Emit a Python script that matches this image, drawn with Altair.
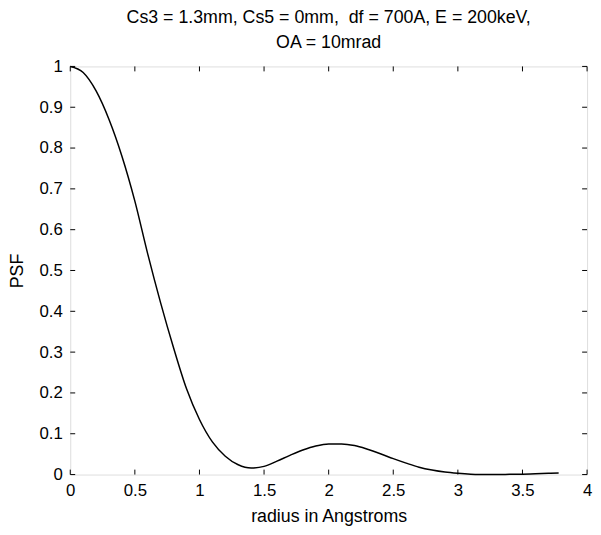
import altair as alt
import pandas as pd

radius = [0.0, 0.1, 0.2, 0.3, 0.4, 0.5, 0.6, 0.7, 0.8, 0.9, 1.0, 1.1, 1.2, 1.3, 1.4,
          1.5, 1.6, 1.7, 1.8, 1.9, 2.0, 2.1, 2.2, 2.3, 2.4, 2.5, 2.6, 2.7, 2.8, 2.9,
          3.0, 3.1, 3.2, 3.3, 3.4, 3.5, 3.6, 3.7, 3.78]
psf = [1.0, 0.985, 0.94, 0.87, 0.78, 0.67, 0.54, 0.42, 0.31, 0.21, 0.135, 0.08, 0.045,
       0.024, 0.016, 0.02, 0.033, 0.047, 0.06, 0.07, 0.075, 0.075, 0.071, 0.062, 0.051,
       0.039, 0.028, 0.018, 0.011, 0.006, 0.003, 0.001, 0.0003, 0.0, 0.0005, 0.001,
       0.002, 0.003, 0.004]

x_ticks = [0, 0.5, 1, 1.5, 2, 2.5, 3, 3.5, 4]
y_ticks = [0, 0.1, 0.2, 0.3, 0.4, 0.5, 0.6, 0.7, 0.8, 0.9, 1]

title_lines = ["Cs3 = 1.3mm, Cs5 = 0mm,\u00a0 df = 700A, E = 200keV,", "OA = 10mrad"]

W, H = 523, 413
FONT = "Liberation Sans"
TL = 5

df = pd.DataFrame({"r": radius, "p": psf})
xt = pd.DataFrame({"t": x_ticks})
yt = pd.DataFrame({"t": y_ticks})

xs = alt.Scale(domain=[0, 4], nice=False, zero=False)
ys = alt.Scale(domain=[0, 1], nice=False, zero=False)

line = alt.Chart(df).mark_line(color="black", strokeWidth=1.5, interpolate="monotone").encode(
    x=alt.X("r:Q", scale=xs, title="radius in Angstroms",
            axis=alt.Axis(values=x_ticks, tickSize=0, domain=False, grid=False,
                          labelFontSize=17, labelColor="black", labelFont=FONT,
                          labelPadding=8, labelFlush=False, labelExpr="datum.value",
                          titleFontSize=18, titleFont=FONT, titleFontWeight="normal",
                          titleColor="black", titleY=48, titleBaseline="alphabetic")),
    y=alt.Y("p:Q", scale=ys, title="PSF",
            axis=alt.Axis(values=y_ticks, tickSize=0, domain=False, grid=False,
                          labelFontSize=17, labelColor="black", labelFont=FONT,
                          labelPadding=8, labelFlush=False, labelExpr="datum.value",
                          titleFontSize=18, titleFont=FONT, titleFontWeight="normal",
                          titleColor="black", titleX=-53, titleY=H / 2,
                          titleAngle=-90, titleBaseline="middle", titleAlign="center")),
)

bt = alt.Chart(xt).mark_rule(color="black", strokeWidth=1).encode(
    x=alt.X("t:Q", scale=xs), y=alt.value(H), y2=alt.value(H - TL))
tt = alt.Chart(xt).mark_rule(color="black", strokeWidth=1).encode(
    x=alt.X("t:Q", scale=xs), y=alt.value(0), y2=alt.value(TL))
lt = alt.Chart(yt).mark_rule(color="black", strokeWidth=1).encode(
    y=alt.Y("t:Q", scale=ys), x=alt.value(0), x2=alt.value(TL))
rt = alt.Chart(yt).mark_rule(color="black", strokeWidth=1).encode(
    y=alt.Y("t:Q", scale=ys), x=alt.value(W), x2=alt.value(W - TL))

chart = alt.layer(bt, tt, lt, rt, line).properties(
    width=W, height=H,
    title=alt.TitleParams(text=title_lines, fontSize=18, font=FONT, fontWeight="normal",
                          color="black", anchor="middle", offset=6, lineHeight=25),
    autosize=alt.AutoSizeParams(type="none"),
    padding={"left": 63, "top": 56, "right": 6, "bottom": 55},
).configure_view(stroke="black", strokeWidth=1.2).configure(background="white")

chart.save("out.html", embed_options={"renderer": "svg", "actions": False})
